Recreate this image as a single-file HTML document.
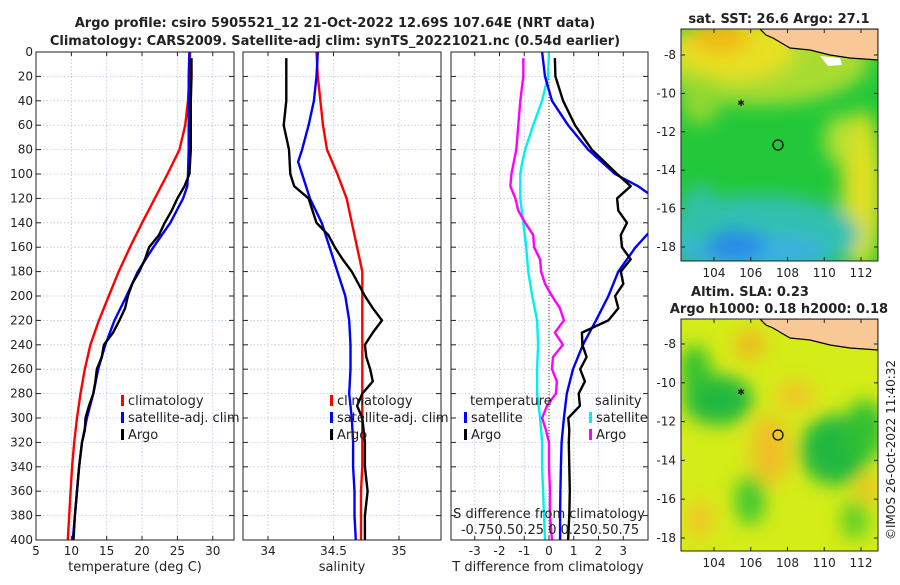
<!DOCTYPE html>
<html><head><meta charset="utf-8"><style>
body{margin:0;background:#fff;}
svg text{font-family:"DejaVu Sans","Liberation Sans",sans-serif;fill:#222;}
</style></head><body>
<svg id="fig" width="900" height="580" viewBox="0 0 900 580" xmlns="http://www.w3.org/2000/svg">
<defs>
<clipPath id="c1"><rect x="36" y="52" width="198" height="488"/></clipPath>
<clipPath id="c2"><rect x="243" y="52" width="198" height="488"/></clipPath>
<clipPath id="c3"><rect x="451" y="52" width="197" height="488"/></clipPath>
<clipPath id="m1"><rect x="681" y="29" width="197" height="232"/></clipPath>
<clipPath id="m2"><rect x="681" y="319" width="197" height="232"/></clipPath>
<filter id="bl" x="-50%" y="-50%" width="200%" height="200%"><feGaussianBlur stdDeviation="9"/></filter>
</defs>
<text x="335" y="27" text-anchor="middle" font-size="13" font-weight="bold">Argo profile: csiro 5905521_12 21-Oct-2022 12.69S 107.64E (NRT data)</text>
<text x="335" y="45" text-anchor="middle" font-size="13" font-weight="bold">Climatology: CARS2009. Satellite-adj clim: synTS_20221021.nc (0.54d earlier)</text>
<g id="p1"></g>
<g id="p2"></g>
<g id="p3"></g>

<!-- SST map -->
<g>
<text x="779" y="23" text-anchor="middle" font-size="13" font-weight="bold">sat. SST: 26.6 Argo: 27.1</text>
<g clip-path="url(#m1)">
<rect x="681" y="29" width="197" height="232" fill="#22c83a"/>
<g filter="url(#bl)">
<ellipse cx="760" cy="60" rx="110" ry="45" fill="#a8dc30"/>
<ellipse cx="735" cy="50" rx="60" ry="30" fill="#e8e020"/>
<ellipse cx="720" cy="38" rx="30" ry="15" fill="#f0b818"/>
<ellipse cx="700" cy="100" rx="20" ry="25" fill="#90d830"/>
<ellipse cx="862" cy="190" rx="20" ry="80" fill="#e0e020"/>
<ellipse cx="840" cy="140" rx="15" ry="25" fill="#b8e030"/>
<ellipse cx="760" cy="235" rx="100" ry="40" fill="#30c0b0"/>
<ellipse cx="750" cy="252" rx="80" ry="18" fill="#3ab0e0"/>
<ellipse cx="735" cy="245" rx="30" ry="15" fill="#2888e8"/>
<ellipse cx="700" cy="215" rx="20" ry="30" fill="#30c0a8"/>
</g>
<path d="M760 29 L766 35 L773 38 L790 48 L810 50 L830 55 L850 58 L878 60 L878 29 Z" fill="#f8c896" stroke="#000" stroke-width="1.2"/>
<path d="M820 56 L840 58 L842 65 L828 66 Z" fill="#fff"/>
<circle cx="778" cy="145" r="5" fill="none" stroke="#000" stroke-width="1.2"/>
<text x="741" y="106" font-size="9" text-anchor="middle">✱</text>
</g>
<rect x="681" y="29" width="197" height="232" fill="none" stroke="#222"/>
</g>
<!-- SLA map -->
<g>
<text x="750" y="296" text-anchor="middle" font-size="13" font-weight="bold">Altim. SLA: 0.23</text>
<text x="779" y="313" text-anchor="middle" font-size="13" font-weight="bold">Argo h1000: 0.18 h2000: 0.18</text>
<g clip-path="url(#m2)">
<rect x="681" y="319" width="197" height="232" fill="#d4ec18"/>
<g filter="url(#bl)">
<ellipse cx="718" cy="400" rx="35" ry="25" fill="#20b840"/>
<ellipse cx="695" cy="370" rx="15" ry="25" fill="#30c030"/>
<ellipse cx="835" cy="450" rx="35" ry="35" fill="#20b840"/>
<ellipse cx="865" cy="430" rx="20" ry="30" fill="#30c030"/>
<ellipse cx="750" cy="500" rx="15" ry="25" fill="#40c830"/>
<ellipse cx="855" cy="520" rx="14" ry="20" fill="#60d028"/>
<ellipse cx="750" cy="345" rx="15" ry="15" fill="#f0b820"/>
<ellipse cx="770" cy="450" rx="20" ry="35" fill="#f0c028"/>
<ellipse cx="795" cy="395" rx="20" ry="15" fill="#f0c828"/>
<ellipse cx="700" cy="520" rx="14" ry="20" fill="#f0c828"/>
<ellipse cx="868" cy="490" rx="10" ry="15" fill="#f0c020"/>
</g>
<path d="M760 319 L766 325 L773 328 L790 338 L810 340 L830 345 L850 348 L878 350 L878 319 Z" fill="#f8c896" stroke="#000" stroke-width="1.2"/>
<circle cx="778" cy="435" r="5" fill="none" stroke="#000" stroke-width="1.2"/>
<text x="741" y="395" font-size="9" text-anchor="middle">✱</text>
</g>
<rect x="681" y="319" width="197" height="232" fill="none" stroke="#222"/>
</g>
<text transform="translate(895,540) rotate(-90)" font-size="12">©IMOS 26-Oct-2022 11:40:32</text>
<g id="maxes"></g>
</svg>
<script>
// ---------- data ----------
const depths = [0,20,40,60,80,100,120,140,160,180,200,220,240,260,280,300,320,340,360,380,400];
const tempClim = [26.8,26.7,26.5,26.1,25.3,23.6,21.8,20.0,18.3,16.7,15.3,13.9,12.7,11.9,11.3,10.8,10.4,10.1,9.9,9.7,9.5];
const tempSatDepths = [0,20,40,60,80,100,110,120,140,160,180,200,220,240,260,280,300,320,340,360,380,400];
const tempSat = [26.7,26.6,26.6,26.6,26.6,26.5,26.4,25.8,24.0,21.6,19.4,17.8,16.1,14.8,13.8,13.1,12.2,11.5,11.1,10.8,10.5,10.2];
const argoDepths = [5,20,40,60,80,100,110,120,130,140,150,160,170,180,190,200,210,220,230,240,250,260,270,280,290,300,310,320,340,360,380,400];
const tempArgo = [27.0,27.0,26.9,26.9,26.9,26.7,26.0,25.0,24.2,23.2,22.4,21.0,20.4,19.6,18.6,18.0,17.6,16.8,15.9,14.6,14.3,13.6,13.4,13.1,12.5,12.0,11.9,11.5,11.1,10.8,10.5,10.3];
const salClim = [34.37,34.38,34.40,34.42,34.45,34.53,34.60,34.64,34.68,34.72,34.72,34.72,34.72,34.72,34.72,34.72,34.72,34.72,34.71,34.71,34.71];
const salSatDepths = [0,20,40,60,80,90,100,120,140,160,180,200,220,240,260,280,300,320,340,360,380,400];
const salSat = [34.38,34.37,34.35,34.31,34.26,34.23,34.26,34.32,34.41,34.47,34.53,34.59,34.62,34.63,34.63,34.62,34.64,34.65,34.65,34.66,34.66,34.67];
const salArgo = [34.14,34.14,34.14,34.12,34.16,34.17,34.20,34.31,34.34,34.37,34.46,34.51,34.57,34.64,34.69,34.74,34.80,34.87,34.80,34.74,34.75,34.78,34.80,34.72,34.68,34.72,34.73,34.74,34.74,34.76,34.74,34.74];
const tDiffSat = [-0.28,-0.16,0.12,0.77,1.58,2.67,3.6,4.3,4.4,3.5,2.8,2.4,1.9,1.37,0.97,0.72,0.6,0.51,0.48,0.46,0.45,0.45];
const tDiffArgo = [0.24,0.26,0.57,1.05,1.73,2.75,3.3,2.75,2.8,3.15,2.9,2.95,3.3,2.9,3.0,2.67,2.8,2.4,1.33,1.35,1.52,1.26,1.45,1.2,1.25,0.78,0.82,0.8,0.82,0.84,0.82,0.77];
const sDiffSat = [0.0,-0.01,-0.07,-0.16,-0.24,-0.27,-0.29,-0.29,-0.26,-0.23,-0.21,-0.17,-0.12,-0.11,-0.12,-0.12,-0.09,-0.07,-0.07,-0.06,-0.05,-0.04];
const sDiffArgo = [-0.26,-0.26,-0.29,-0.31,-0.33,-0.38,-0.39,-0.34,-0.31,-0.24,-0.16,-0.15,-0.09,-0.08,-0.04,0.03,0.11,0.15,0.06,0.14,0.04,0.03,0.08,0.07,-0.02,-0.07,-0.03,0.0,0.0,0.01,0.01,0.03];
const depthTicks = [0,20,40,60,80,100,120,140,160,180,200,220,240,260,280,300,320,340,360,380,400];
const tempTicks = [5,10,15,20,25,30];
const salTicks = [34,34.5,35];
const tdTicks = [-3,-2,-1,0,1,2,3];
const sdLabelText = "-0.750.50.25 0 0.250.50.75";
const latTicks = [-8,-10,-12,-14,-16,-18];
const lonTicks = [104,106,108,110,112];

// ---------- helpers ----------
const NS = "http://www.w3.org/2000/svg";
const Y0 = 52, Y1 = 540;
const yD = d => Y0 + d/400*(Y1-Y0);
function mk(tag, attrs, parent){
  const e = document.createElementNS(NS, tag);
  for (const k in attrs) e.setAttribute(k, attrs[k]);
  parent.appendChild(e); return e;
}
function txt(parent, x, y, s, size, anchor){
  const t = mk('text', {x:x, y:y, 'font-size':size||12, 'text-anchor':anchor||'middle'}, parent);
  t.textContent = s; return t;
}
function panel(g, x0, x1, xs, xticks, clip, showY){
  for (const v of xticks){ const x = xs(v);
    const l = mk('line',{x1:x,x2:x,y1:Y0,y2:Y1,stroke:'#b8c4e8','stroke-width':0.8,'stroke-dasharray':'1.5,2'},g);
     
    mk('line',{x1:x,x2:x,y1:Y1,y2:Y1-4,stroke:'#222'},g);
    mk('line',{x1:x,x2:x,y1:Y0,y2:Y0+4,stroke:'#222'},g);
  }
  for (const d of depthTicks){ const y = yD(d);
    const l = mk('line',{x1:x0,x2:x1,y1:y,y2:y,stroke:'#b8c4e8','stroke-width':0.8,'stroke-dasharray':'1.5,2'},g);
     
    mk('line',{x1:x0,x2:x0+5,y1:y,y2:y,stroke:'#222'},g);
    mk('line',{x1:x1,x2:x1-5,y1:y,y2:y,stroke:'#222'},g);
    if (showY){ const t = txt(g, x0-3, y+4, String(d), 12, 'end');
        }
  }
}
function line(g, xs, vals, ds, color, clip, name){
  const pts = vals.map((v,i)=> xs(v).toFixed(1)+','+yD(ds[i]).toFixed(1)).join(' ');
  const p = mk('polyline',{points:pts,fill:'none',stroke:color,'stroke-width':2.4,'stroke-linejoin':'round','clip-path':'url(#'+clip+')'},g);
  
  
}
function frame(g,x0,x1){ mk('rect',{x:x0,y:Y0,width:x1-x0,height:Y1-Y0,fill:'none',stroke:'#222','stroke-width':1},g); }
function legendEntry(g,x,y,color,label){
  const e = mk('g',{},g);
  
  
  mk('rect',{x:x,y:y-10,width:3,height:11,fill:color},e);
  txt(e,x+7,y,label,13,'start');
}

// ---------- panel 1 ----------
const g1 = document.getElementById('p1');
const xT = v => 36 + (v-5)*7.07;
panel(g1,36,234,xT,tempTicks,'c1',true);
line(g1,xT,tempClim,depths,'#ff0000','c1','climatology-temp-line');
line(g1,xT,tempSat,tempSatDepths,'#0000ff','c1','satellite-temp-line');
line(g1,xT,tempArgo,argoDepths,'#000000','c1','argo-temp-line');
frame(g1,36,234);
for (const v of tempTicks){ const t = txt(g1,xT(v),555,String(v),12);
    }
{ const t = txt(g1,135,571,'temperature (deg C)',13);   }
legendEntry(g1,121,405,'#ff0000','climatology');
legendEntry(g1,121,422,'#0000ff','satellite-adj. clim');
legendEntry(g1,121,439,'#000000','Argo');

// ---------- panel 2 ----------
const g2 = document.getElementById('p2');
const xS = v => 268 + (v-34)*131;
panel(g2,243,441,xS,salTicks,'c2',false);
line(g2,xS,salClim,depths,'#ff0000','c2','climatology-salinity-line');
line(g2,xS,salSat,salSatDepths,'#0000ff','c2','satellite-salinity-line');
line(g2,xS,salArgo,argoDepths,'#000000','c2','argo-salinity-line');
frame(g2,243,441);
for (const v of salTicks){ const t = txt(g2,xS(v),555,String(v),12);
    }
{ const t = txt(g2,342,571,'salinity',13);   }
legendEntry(g2,330,405,'#ff0000','climatology');
legendEntry(g2,330,422,'#0000ff','satellite-adj. clim');
legendEntry(g2,330,439,'#000000','Argo');

// ---------- panel 3 ----------
const g3 = document.getElementById('p3');
const xTD = v => 549 + v*24.75;
const xSD = v => 549 + v*99;
panel(g3,451,648,xTD,tdTicks,'c3',false);
mk('line',{x1:549,x2:549,y1:Y0,y2:Y1,stroke:'#553311','stroke-width':1,'stroke-dasharray':'1,2'},g3);
line(g3,xSD,sDiffSat,salSatDepths,'#00f0f0','c3','satellite-salinity-diff-line');
line(g3,xSD,sDiffArgo,argoDepths,'#ff00ff','c3','argo-salinity-diff-line');
line(g3,xTD,tDiffSat,tempSatDepths,'#0000ff','c3','satellite-temp-diff-line');
line(g3,xTD,tDiffArgo,argoDepths,'#000000','c3','argo-temp-diff-line');
frame(g3,451,648);
for (const v of tdTicks){ const t = txt(g3,xTD(v),555,String(v),12);
    }
{ const t = txt(g3,548,571,'T difference from climatology',13);   }
{ const t = txt(g3,549,518,'S difference from climatology',13);   }
{ const t = txt(g3,550,534,sdLabelText,13);   }
{ const t = txt(g3,470,405,'temperature',13,'start');   }
{ const t = txt(g3,595,405,'salinity',13,'start');   }
legendEntry(g3,464,422,'#0000ff','satellite');
legendEntry(g3,464,439,'#000000','Argo');
legendEntry(g3,589,422,'#00f0f0','satellite');
legendEntry(g3,589,439,'#ff00ff','Argo');

// ---------- map axes ----------
const ga = document.getElementById('maxes');
function mapAxes(yTop, lat8, lat18, yBot){
  const yl = v => lat8 + (v+8)/(-10)*(lat18-lat8);
  const xl = v => 714 + (v-104)*18.375;
  for (const v of latTicks){ const y = yl(v);
    mk('line',{x1:681,x2:685,y1:y,y2:y,stroke:'#222'},ga);
    mk('line',{x1:878,x2:874,y1:y,y2:y,stroke:'#222'},ga);
    const t = txt(ga,676,y+4,String(v),12,'end');
      }
  for (const v of lonTicks){ const x = xl(v);
    mk('line',{x1:x,x2:x,y1:yBot,y2:yBot-4,stroke:'#222'},ga);
    mk('line',{x1:x,x2:x,y1:yTop,y2:yTop+4,stroke:'#222'},ga);
    const t = txt(ga,x,yBot+16,String(v),12);
      }
}
mapAxes(29,55,247,261);
mapAxes(319,344,538,551);
</script>
</body></html>
